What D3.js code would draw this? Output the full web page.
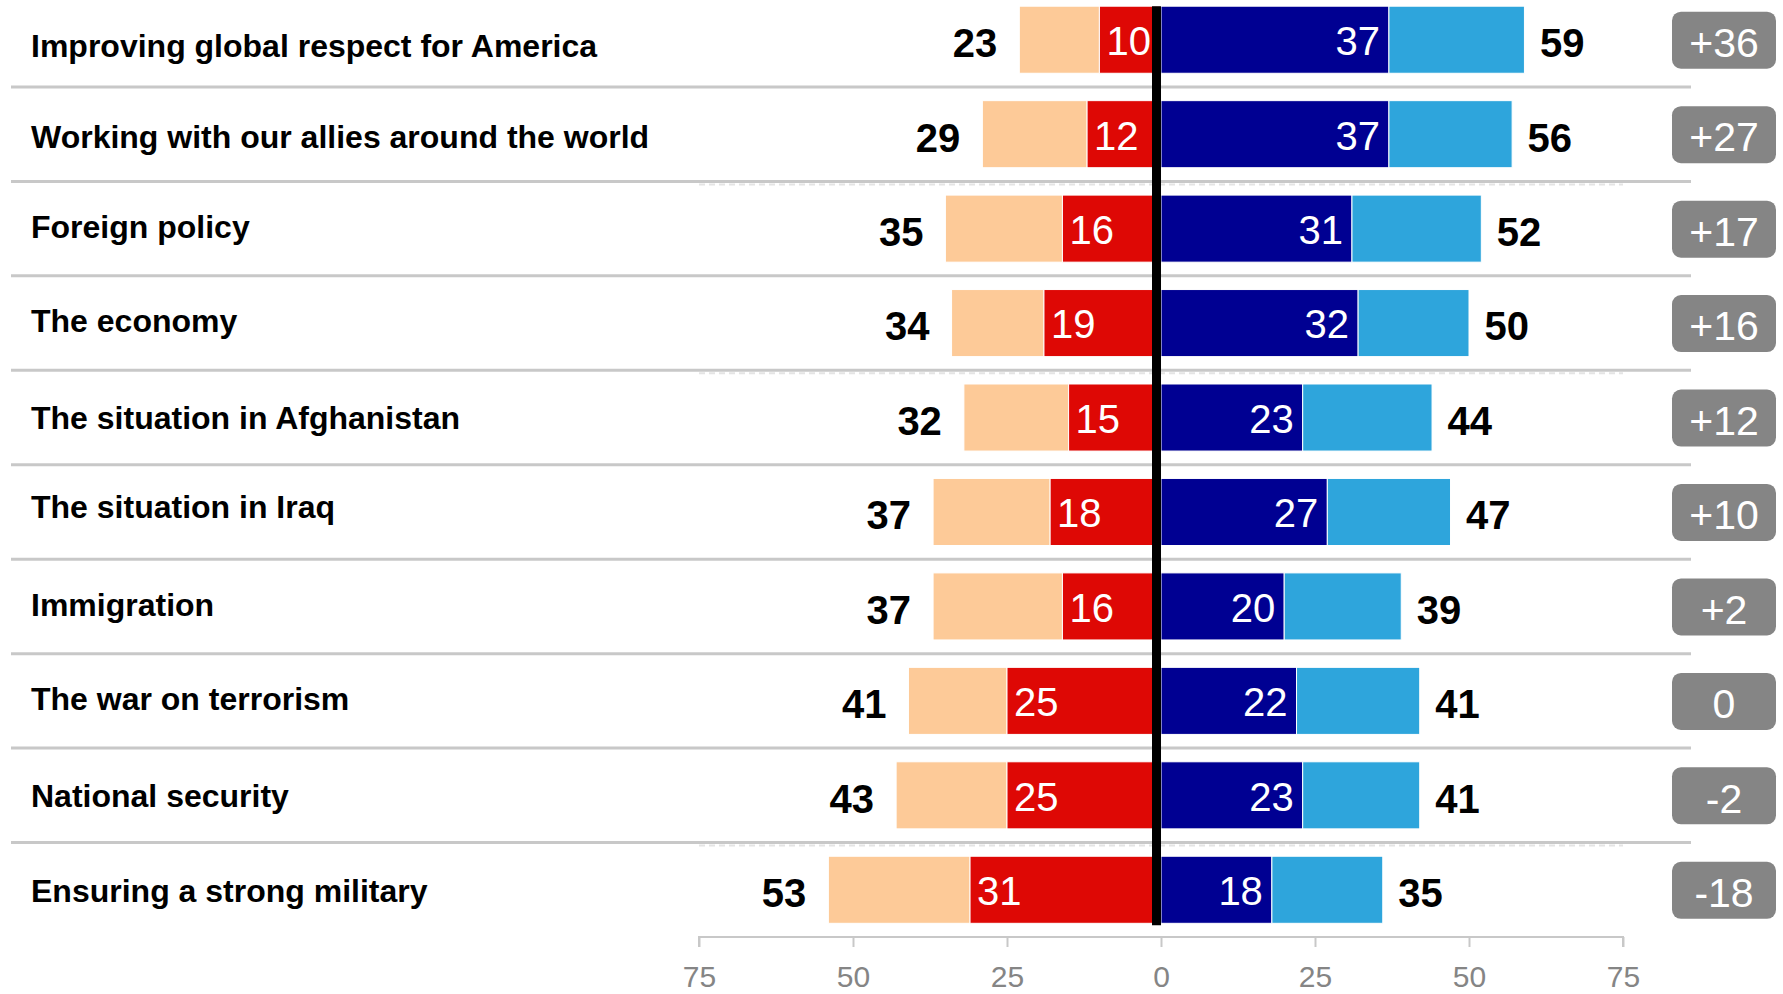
<!DOCTYPE html>
<html>
<head>
<meta charset="utf-8">
<script src="https://cdn.jsdelivr.net/npm/d3@7"></script>
<style>
  html, body { margin: 0; padding: 0; background: #ffffff; }
  svg { display: block; font-family: "Liberation Sans", Arial, sans-serif; }
</style>
</head>
<body>
<svg id="chart" width="1783" height="994"></svg>
<script>
// ---- data ----
const categories = [
  "Improving global respect for America",
  "Working with our allies around the world",
  "Foreign policy",
  "The economy",
  "The situation in Afghanistan",
  "The situation in Iraq",
  "Immigration",
  "The war on terrorism",
  "National security",
  "Ensuring a strong military"
];
// bar segments (percent)
const leftStrong    = [10, 12, 16, 19, 15, 18, 16, 25, 25, 31];
const leftSomewhat  = [13, 17, 19, 15, 17, 19, 21, 16, 18, 23];
const rightStrong   = [37, 37, 31, 32, 23, 27, 20, 22, 23, 18];
const rightSomewhat = [22, 20, 21, 18, 21, 20, 19, 20, 19, 18];
// printed totals
const leftTotal   = [23, 29, 35, 34, 32, 37, 37, 41, 43, 53];
const rightTotal  = [59, 56, 52, 50, 44, 47, 39, 41, 41, 35];
const netLabels   = ["+36", "+27", "+17", "+16", "+12", "+10", "+2", "0", "-2", "-18"];
const tickValues  = [-75, -50, -25, 0, 25, 50, 75];
const tickLabels  = ["75", "50", "25", "0", "25", "50", "75"];

// ---- layout / styles ----
const labelNudge = [6, 2, -2, -3, 0, -5, -2, -2, 0, 1];
const colors = {
  leftLight: "#fdca98",
  leftStrong: "#de0805",
  rightStrong: "#000092",
  rightLight: "#2ea5dc",
  grid: "#c8c8c8",
  badge: "#858585",
  tick: "#858585"
};

const rows = categories.map((c, i) => ({
  cat: c, i,
  ls: leftStrong[i], lw: leftSomewhat[i],
  rs: rightStrong[i], rw: rightSomewhat[i],
  lt: leftTotal[i], rt: rightTotal[i], net: netLabels[i]
}));

const svg = d3.select("#chart");

const x = d3.scaleLinear().domain([-75, 75]).range([699, 1623]);
const y = d3.scaleBand().domain(categories).range([-7.5, 937]).paddingInner(0.29).paddingOuter(0.145);
const bw = y.bandwidth();
const step = y.step();
const cy = d => y(d.cat) + bw / 2;

// separators
const seps = categories.slice(0, -1);
svg.append("g").selectAll("line").data(seps).join("line")
  .attr("x1", 11).attr("x2", 1691)
  .attr("y1", d => y(d) + bw / 2 + step / 2)
  .attr("y2", d => y(d) + bw / 2 + step / 2)
  .attr("stroke", colors.grid).attr("stroke-width", 3);

// faint dashed lines
const dashedAfter = [categories[1], categories[3], categories[8]];
svg.append("g").selectAll("line").data(dashedAfter).join("line")
  .attr("x1", x(-75)).attr("x2", x(75))
  .attr("y1", d => y(d) + bw / 2 + step / 2 + 3)
  .attr("y2", d => y(d) + bw / 2 + step / 2 + 3)
  .attr("stroke", "#e4e4e4").attr("stroke-width", 2).attr("stroke-dasharray", "6,4");

// bars
const segs = [];
rows.forEach(r => {
  segs.push({ cat: r.cat, a: -(r.ls + r.lw), b: -r.ls, c: colors.leftLight });
  segs.push({ cat: r.cat, a: -r.ls, b: 0, c: colors.leftStrong });
  segs.push({ cat: r.cat, a: 0, b: r.rs, c: colors.rightStrong });
  segs.push({ cat: r.cat, a: r.rs, b: r.rs + r.rw, c: colors.rightLight });
});
svg.append("g").selectAll("rect").data(segs).join("rect")
  .attr("x", d => x(d.a))
  .attr("width", d => x(d.b) - x(d.a))
  .attr("y", d => y(d.cat))
  .attr("height", bw)
  .attr("fill", d => d.c)
  .attr("stroke", "#ffffff").attr("stroke-width", 1);

// center line
svg.append("line")
  .attr("x1", x(0) - 4.5).attr("x2", x(0) - 4.5)
  .attr("y1", y(categories[0]))
  .attr("y2", y(categories[categories.length - 1]) + bw + 2)
  .attr("stroke", "#000").attr("stroke-width", 9);

// category labels
svg.append("g").selectAll("text").data(rows).join("text")
  .attr("x", 31)
  .attr("y", d => cy(d) + labelNudge[d.i])
  .attr("dy", "0.36em")
  .attr("font-size", 32).attr("font-weight", "bold").attr("fill", "#000")
  .text(d => d.cat);

// inner labels
svg.append("g").selectAll("text").data(rows).join("text")
  .attr("x", d => x(-d.ls) + 7)
  .attr("y", d => cy(d) + 1)
  .attr("dy", "0.36em")
  .attr("font-size", 40).attr("fill", "#fff")
  .text(d => d.ls);
svg.append("g").selectAll("text").data(rows).join("text")
  .attr("x", d => x(d.rs) - 9)
  .attr("y", d => cy(d) + 1)
  .attr("dy", "0.36em")
  .attr("text-anchor", "end")
  .attr("font-size", 40).attr("fill", "#fff")
  .text(d => d.rs);

// totals
svg.append("g").selectAll("text").data(rows).join("text")
  .attr("x", d => x(-(d.ls + d.lw)) - 22)
  .attr("y", d => cy(d) + 3)
  .attr("dy", "0.36em")
  .attr("text-anchor", "end")
  .attr("font-size", 40).attr("font-weight", "bold").attr("fill", "#000")
  .text(d => d.lt);
svg.append("g").selectAll("text").data(rows).join("text")
  .attr("x", d => x(d.rs + d.rw) + 15.5)
  .attr("y", d => cy(d) + 3)
  .attr("dy", "0.36em")
  .attr("font-size", 40).attr("font-weight", "bold").attr("fill", "#000")
  .text(d => d.rt);

// badges
const bg = svg.append("g").selectAll("g").data(rows).join("g")
  .attr("transform", d => `translate(1724,${cy(d) + 0.5})`);
bg.append("rect")
  .attr("x", -52).attr("y", -28.5).attr("width", 104).attr("height", 57)
  .attr("rx", 9).attr("fill", colors.badge);
bg.append("text")
  .attr("text-anchor", "middle").attr("y", 2).attr("dy", "0.36em")
  .attr("font-size", 41).attr("fill", "#fff")
  .text(d => d.net);

// axis
const axisY = 937;
const axis = d3.axisBottom(x).tickValues(tickValues).tickSize(10)
  .tickFormat((d, i) => tickLabels[i]).tickPadding(19);
const ag = svg.append("g").attr("transform", `translate(0,${axisY})`).call(axis);
ag.select(".domain").attr("stroke", colors.grid).attr("stroke-width", 2)
  .attr("d", `M${x(-75)},10V0H${x(75)}V10`);
ag.selectAll(".tick line").attr("stroke", colors.grid).attr("stroke-width", 2);
ag.selectAll(".tick text").attr("fill", colors.tick).attr("font-size", 30)
  .attr("font-family", "\"Liberation Sans\", Arial, sans-serif");
</script>
</body>
</html>
